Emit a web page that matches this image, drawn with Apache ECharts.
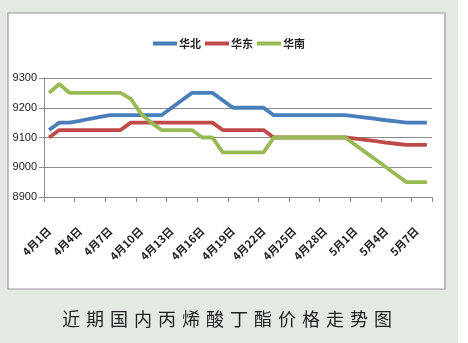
<!DOCTYPE html>
<html>
<head>
<meta charset="utf-8">
<script src="https://cdn.jsdelivr.net/npm/echarts@6/dist/echarts.min.js"></script>
<style>
  html, body { margin: 0; padding: 0; background: #ffffff; }
  #chart { width: 468px; height: 343px; }
</style>
</head>
<body>
<div id="chart"></div>
<script>
// Daily categories, 4月1日 – 5月8日
const categories = [
  '4月1日','4月2日','4月3日','4月4日','4月5日','4月6日','4月7日','4月8日','4月9日','4月10日',
  '4月11日','4月12日','4月13日','4月14日','4月15日','4月16日','4月17日','4月18日','4月19日','4月20日',
  '4月21日','4月22日','4月23日','4月24日','4月25日','4月26日','4月27日','4月28日','4月29日','4月30日',
  '5月1日','5月2日','5月3日','5月4日','5月5日','5月6日','5月7日','5月8日'
];

// 华北 (North China), 元/吨
const northValues = [
  9125, 9150, 9150, 9156, 9163, 9169, 9175, 9175, 9175, 9175,
  9175, 9175, 9200, 9225, 9250, 9250, 9250, 9225, 9200, 9200,
  9200, 9200, 9175, 9175, 9175, 9175, 9175, 9175, 9175, 9175,
  9171, 9167, 9163, 9158, 9154, 9150, 9150, 9150
];

// 华东 (East China)
const eastValues = [
  9100, 9125, 9125, 9125, 9125, 9125, 9125, 9125, 9150, 9150,
  9150, 9150, 9150, 9150, 9150, 9150, 9150, 9125, 9125, 9125,
  9125, 9125, 9100, 9100, 9100, 9100, 9100, 9100, 9100, 9100,
  9096, 9092, 9088, 9083, 9079, 9075, 9075, 9075
];

// 华南 (South China)
const southValues = [
  9250, 9280, 9250, 9250, 9250, 9250, 9250, 9250, 9230, 9180,
  9150, 9125, 9125, 9125, 9125, 9100, 9100, 9050, 9050, 9050,
  9050, 9050, 9100, 9100, 9100, 9100, 9100, 9100, 9100, 9100,
  9075, 9050, 9025, 9000, 8975, 8950, 8950, 8950
];

const seriesNames = ['华北', '华东', '华南'];
const seriesColors = ['#4a7ebb', '#be4b48', '#98b954'];
const caption = '近期国内丙烯酸丁酯价格走势图';

const chart = echarts.init(document.getElementById('chart'), null, { renderer: 'canvas' });

function lineSeries(name, data, color) {
  return {
    name: name,
    type: 'line',
    data: data,
    symbol: 'none',
    smooth: false,
    lineStyle: { color: color, width: 3.8 },
    itemStyle: { color: color }
  };
}

const option = {
  backgroundColor: '#e2eae2',
  animation: false,
  graphic: [
    {
      type: 'rect',
      z: -10,
      shape: { x: 8, y: 13, width: 437, height: 276 },
      style: { fill: '#ffffff', stroke: '#9a9a9a', lineWidth: 1.2 }
    },
    {
      type: 'rect',
      z: -11,
      shape: { x: 458, y: 0, width: 10, height: 343 },
      style: { fill: '#ffffff' }
    }
  ],
  title: {
    text: caption.split('').join('\u2004'),
    left: 57,
    top: 305,
    textStyle: {
      fontFamily: 'Noto Sans CJK SC',
      fontSize: 18,
      fontWeight: 'normal',
      color: '#222222'
    }
  },
  legend: {
    data: seriesNames,
    top: 33,
    left: 148,
    itemWidth: 24,
    itemHeight: 4,
    itemGap: 4,
    icon: 'rect',
    textStyle: {
      fontFamily: 'Noto Sans CJK SC',
      fontSize: 11,
      fontWeight: 'bold',
      color: '#222222',
      padding: [0, 0, 0, -3]
    }
  },
  grid: {
    left: 44,
    top: 78,
    width: 388,
    height: 119,
    containLabel: false
  },
  xAxis: {
    type: 'category',
    data: categories,
    boundaryGap: true,
    axisLine: { show: true, lineStyle: { color: '#8c8c8c', width: 1 } },
    axisTick: { show: true, interval: 2, length: 5, lineStyle: { color: '#8c8c8c' } },
    axisLabel: {
      interval: 2,
      rotate: 45,
      margin: 32,
      fontFamily: 'Noto Sans CJK SC',
      fontSize: 11,
      fontWeight: 'bold',
      color: '#222222'
    },
    splitLine: { show: false }
  },
  yAxis: {
    type: 'value',
    min: 8900,
    max: 9300,
    interval: 100,
    axisLine: { show: true, lineStyle: { color: '#8c8c8c', width: 1 } },
    axisTick: { show: true, length: 5, lineStyle: { color: '#8c8c8c' } },
    axisLabel: {
      margin: 7,
      formatter: function (v) { return String(v); },
      fontFamily: '"Liberation Sans Narrow", "Liberation Sans", sans-serif',
      fontSize: 11,
      color: '#222222'
    },
    splitLine: { show: true, lineStyle: { color: '#8c8c8c', width: 1.2 } }
  },
  series: [
    lineSeries(seriesNames[0], northValues, seriesColors[0]),
    lineSeries(seriesNames[1], eastValues, seriesColors[1]),
    lineSeries(seriesNames[2], southValues, seriesColors[2])
  ]
};

chart.setOption(option);
</script>
</body>
</html>
